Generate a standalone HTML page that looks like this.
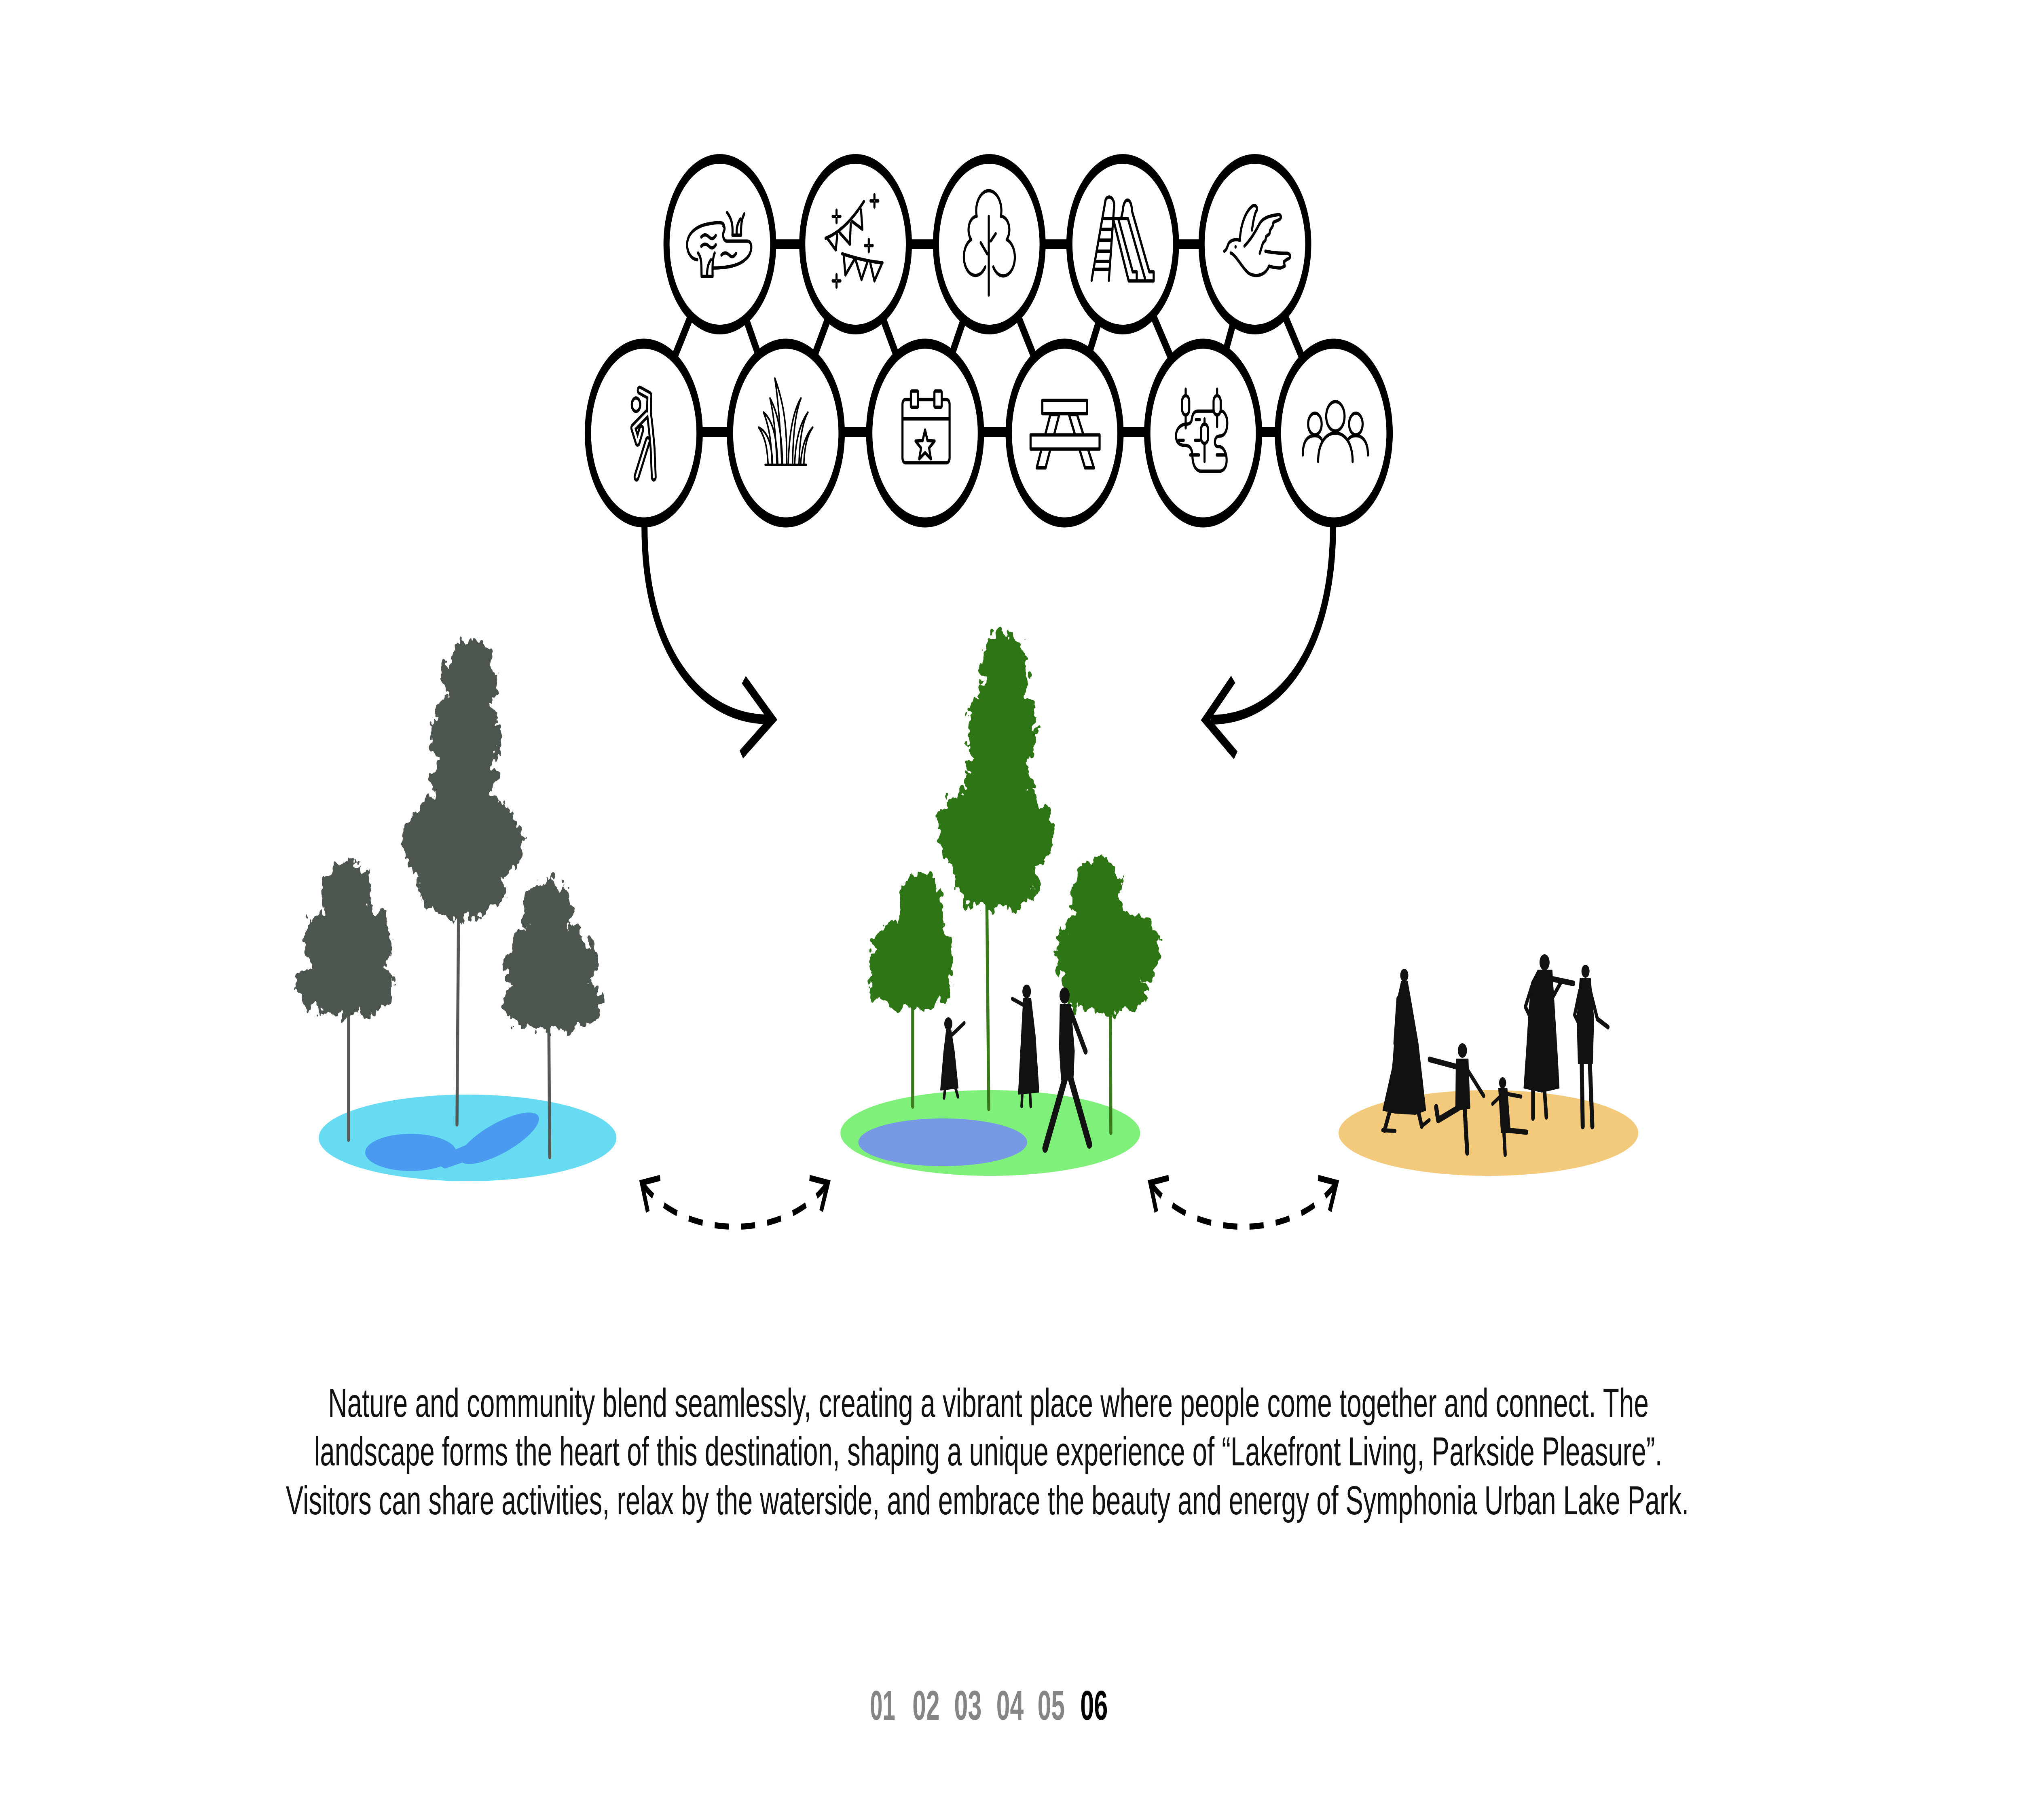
<!DOCTYPE html>
<html>
<head>
<meta charset="utf-8">
<style>
html,body{margin:0;padding:0;background:#fff;width:100%;height:100%;overflow:hidden;}
svg{display:block;position:fixed;left:0;top:0;width:100vw;height:100vh;}
</style>
</head>
<body>
<svg viewBox="0 0 8000 4501" preserveAspectRatio="none" xmlns="http://www.w3.org/2000/svg">
<defs>
<filter id="leafy" filterUnits="userSpaceOnUse" x="1000" y="1400" width="3800" height="1300">
<feTurbulence type="fractalNoise" baseFrequency="0.03" numOctaves="3" seed="7" result="n"/>
<feDisplacementMap in="SourceGraphic" in2="n" scale="70" xChannelSelector="R" yChannelSelector="G"/>
</filter>
</defs>
<rect width="8000" height="4501" fill="#fff"/>

<!-- connectors -->
<g stroke="#000" stroke-width="24" fill="none">
<polyline points="2848,604 3385,604 3914,604 4442,604 4965,604"/>
<polyline points="2547,1068 3109,1068 3660,1068 4212,1068 4760,1068 5277,1068"/>
<line x1="2848" y1="604" x2="2547" y2="1071"/>
<line x1="2848" y1="604" x2="3109" y2="1071"/>
<line x1="3385" y1="604" x2="3109" y2="1071"/>
<line x1="3385" y1="604" x2="3660" y2="1071"/>
<line x1="3914" y1="604" x2="3660" y2="1071"/>
<line x1="3914" y1="604" x2="4212" y2="1071"/>
<line x1="4442" y1="604" x2="4212" y2="1071"/>
<line x1="4442" y1="604" x2="4760" y2="1071"/>
<line x1="4965" y1="604" x2="4760" y2="1071"/>
<line x1="4965" y1="604" x2="5277" y2="1071"/>
<!-- curved arrows -->
<path d="M2550,1250 L2550,1304 C2550,1600 2760,1779 3040,1779"/>
<polyline points="2943,1681 3056,1779 2933,1866"/>
<path d="M5274,1250 L5274,1301 C5274,1600 5070,1780 4790,1780"/>
<polyline points="4879,1680 4770,1780 4889,1868"/>
</g>

<!-- circles -->
<g fill="#fff" stroke="#000">
<g stroke-width="24">
<circle cx="2848" cy="604" r="211"/>
<circle cx="3385" cy="604" r="211"/>
<circle cx="3914" cy="604" r="211"/>
<circle cx="4442" cy="604" r="211"/>
<circle cx="4965" cy="604" r="211"/>
</g>
<g stroke-width="25">
<circle cx="2547" cy="1071" r="221"/>
<circle cx="3109" cy="1071" r="221"/>
<circle cx="3660" cy="1071" r="221"/>
<circle cx="4212" cy="1071" r="221"/>
<circle cx="4760" cy="1071" r="221"/>
<circle cx="5277" cy="1071" r="221"/>
</g>
</g>

<!-- icons -->
<g fill="none" stroke="#000" stroke-width="13" stroke-linecap="round" stroke-linejoin="round">
<!-- pond -->
<g transform="translate(2848,604) scale(0.638)">
<path d="M22,-70 C30,-82 10,-88 -60,-80 C-150,-72 -205,-40 -203,5 C-200,40 -170,58 -140,60"/>
<path d="M-45,92 C20,92 110,88 160,58 C205,35 205,-12 170,-12 L45,-12 C22,-12 15,-35 25,-50 C32,-60 30,-68 22,-70"/>
<path d="M-115,-28 c18,-12 32,-10 48,0 s28,8 42,-6"/>
<path d="M-115,8 c18,-12 32,-10 48,0 s28,8 42,-6"/>
<path d="M10,42 c18,-12 32,-10 48,0 s28,8 42,-6"/>
<path d="M45,-123 C72,-100 82,-78 78,-35 L132,-35 C130,-72 135,-100 152,-118"/>
<path d="M105,-35 C100,-62 112,-85 128,-98"/>
<path d="M-135,34 C-110,55 -115,85 -113,125 L-45,125 C-45,90 -48,60 -32,34"/>
<path d="M-78,125 C-82,95 -70,72 -55,60"/>
</g>
<!-- festival -->
<g transform="translate(3385,604) scale(0.638)">
<path d="M-186,-23 Q-60,-55 52,-166"/>
<path d="M-175,-23 L-123,22 L-113,-36"/>
<path d="M-100,-46 L-35,0 L-30,-80"/>
<path d="M-20,-88 L42,-58 L34,-133"/>
<path d="M-83,37 Q50,65 167,72"/>
<path d="M-73,47 L-63,119 L-8,60"/>
<path d="M2,64 L37,137 L72,72"/>
<path d="M92,74 L117,142 L162,77"/>
<path d="M-142,-108h16 M-110,-108h16 M-118,-132v16 M-118,-100v16"/>
<path d="M93,-168h16 M125,-168h16 M117,-192v16 M117,-160v16"/>
<path d="M58,5h16 M90,5h16 M82,-19v16 M82,13v16"/>
<path d="M-142,142h16 M-110,142h16 M-118,118v16 M-118,150v16"/>
</g>
<!-- tree -->
<g transform="translate(3914,604) scale(0.638)">
<path d="M-25,88 A72,72 0 1 1 -112,-18 A52,52 0 0 1 -78,-108 A78,78 0 1 1 72,-108 A52,52 0 0 1 108,-18 A72,72 0 1 1 25,88"/>
<path d="M-3,-108 L-3,197 M-53,-6 L-13,37 M40,-41 L10,-13"/>
</g>
<!-- slide -->
<g transform="translate(4442,604) scale(0.638)">
<path d="M-108,-166 L-193,140 M-53,-150 L-86,140 M-108,-166 C-104,-190 -58,-190 -53,-155"/>
<path d="M-126,-100 L-59,-100 M-138,-58 L-64,-58 M-150,-16 L-69,-16 M-162,27 L-73,27 M-173,67 L-78,67 M-182,97 L-81,97"/>
<path d="M-60,-100 L37,142 L192,142 L192,107 L165,107 L57,-130 C55,-185 5,-185 0,-128 L-10,-100"/>
<path d="M-28,-100 L62,107 L87,107 L87,142 M32,-100 L137,130 L137,142 M-60,-100 L32,-100"/>
</g>
<!-- bird -->
<g transform="translate(4965,604) scale(0.638)">
<path d="M-190,27 C-175,22 -172,10 -165,0 C-155,-15 -120,-22 -93,-15"/>
<path d="M-93,-15 C-90,-70 -60,-130 -10,-150 C20,-152 15,-130 5,-125 C-8,-100 -15,-70 -18,-55"/>
<path d="M-65,7 C-30,-15 0,-45 25,-75 C45,-100 80,-110 150,-115 C165,-112 165,-100 150,-95 L115,-85 L110,-70 L95,-55 L90,-40 L70,-30 L65,-15 L50,-5 L30,35"/>
<path d="M65,27 C100,32 150,35 200,35 C225,38 225,55 200,58 L180,68 L185,85 L160,92 C130,92 110,90 88,85"/>
<path d="M-150,34 C-120,40 -80,90 -40,112 C0,128 60,125 88,85"/>
<circle cx="-120" cy="10" r="7" fill="#000" stroke="none"/>
</g>
<!-- stretch person -->
<g transform="translate(2547,1071) scale(0.638)">
<g stroke-width="36">
<path d="M-25,-166 L35,-145 L32,-80 L45,-10 L55,60 L62,170"/>
<path d="M25,30 L-45,170"/>
<path d="M20,-75 L-65,-20 L-38,35 L-15,-15"/>
</g>
<g stroke="#fff" stroke-width="12">
<path d="M-25,-166 L35,-145 L32,-80 L45,-10 L55,60 L62,170"/>
<path d="M25,30 L-45,170"/>
<path d="M20,-75 L-65,-20 L-38,35 L-15,-15"/>
</g>
<circle cx="-48" cy="-110" r="26"/>
</g>
<!-- grass -->
<g transform="translate(3109,1071) scale(0.638)" stroke-width="9">
<path d="M-128,123 L127,123"/>
<path d="M-25,120 C-30,20 -45,-120 -68,-212 C-20,-130 10,-40 5,120"/>
<path d="M-55,120 C-60,40 -70,-60 -98,-135 C-50,-80 -25,0 -20,120"/>
<path d="M-85,120 C-90,40 -100,-20 -138,-80 C-80,-50 -55,20 -50,120"/>
<path d="M-110,120 C-115,60 -125,20 -168,-22 C-110,-5 -85,50 -82,120"/>
<path d="M15,120 C20,20 40,-80 94,-135 C60,-80 45,0 42,120"/>
<path d="M55,120 C60,40 80,-30 137,-80 C100,-40 85,40 82,120"/>
<path d="M92,120 C98,60 120,10 167,-22 C130,10 115,60 112,120"/>
</g>
<!-- calendar -->
<g transform="translate(3660,1071) scale(0.638)">
<rect x="-140" y="-130" width="292" height="245" rx="18"/>
<path d="M-140,-55 L152,-55"/>
<rect x="-88" y="-163" width="45" height="63" rx="6" fill="#fff"/>
<rect x="58" y="-163" width="45" height="63" rx="6" fill="#fff"/>
<polygon points="0,-12 15,29 59,31 25,58 36,100 0,76 -36,100 -25,58 -59,31 -15,29"/>
</g>
<!-- picnic table -->
<g transform="translate(4212,1071) scale(0.638)" fill="#fff">
<polygon points="-88,-72 -33,-72 -118,135 -173,135"/>
<polygon points="27,-72 77,-72 182,135 127,135"/>
<rect x="-138" y="-127" width="277" height="52"/>
<rect x="-211" y="7" width="428" height="55"/>
</g>
<!-- cattails -->
<g transform="translate(4760,1071) scale(0.638)">
<path d="M64,-85 L-31,-85 C-55,-85 -65,-75 -70,-55 C-72,-40 -85,-35 -100,-35 C-140,-35 -168,-15 -168,10 C-168,35 -150,48 -110,48 C-80,48 -68,62 -66,90 C-64,130 -40,148 -10,148 L99,148 C130,148 146,130 146,105 C146,75 125,55 100,52 L88,52 C75,50 72,40 74,30 C76,18 88,12 100,12 C135,12 150,-10 150,-40 C150,-65 130,-85 114,-85"/>
<path d="M-150,28 L-120,28 M-50,28 L-20,28 M-80,85 L-25,85 M85,85 L140,85 M-45,-52 L-20,-52"/>
<path d="M-108,-170 L-108,-20 M87,-170 L87,-25 M9,-55 L9,110"/>
<rect x="-130" y="-145" width="44" height="75" rx="22" fill="#fff"/>
<rect x="65" y="-145" width="44" height="75" rx="22" fill="#fff"/>
<rect x="-13" y="-35" width="44" height="75" rx="22" fill="#fff"/>
</g>
<!-- people -->
<g transform="translate(5277,1071) scale(0.638)">
<circle cx="-117" cy="-35" r="42"/>
<circle cx="10" cy="-65" r="57"/>
<circle cx="137" cy="-35" r="42"/>
<path d="M-192,85 C-192,20 -150,10 -117,10 C-100,10 -85,15 -75,25"/>
<path d="M-97,110 C-97,40 -50,0 10,0 C70,0 117,40 117,110"/>
<path d="M90,25 C100,15 115,10 137,10 C175,10 212,30 212,85"/>
</g>
</g>

<!-- islands -->
<ellipse cx="1850" cy="2814" rx="589" ry="107" fill="#66DBF2"/>
<ellipse cx="1625" cy="2850" rx="180" ry="46" fill="#4A9BEF"/>
<ellipse cx="1975" cy="2815" rx="165" ry="40" fill="#4A9BEF" transform="rotate(-18 1975 2815)"/>
<path d="M1700,2870 L1850,2830 L1900,2860 L1760,2890 Z" fill="#4A9BEF"/>
<ellipse cx="3918" cy="2802" rx="593" ry="106" fill="#7FF07A"/>
<ellipse cx="3730" cy="2825" rx="334" ry="59" fill="#7799E3"/>
<ellipse cx="5889" cy="2802" rx="593" ry="106" fill="#F3C97B"/>

<!-- trunks -->
<g stroke-width="12" stroke-linecap="round" fill="none">
<g stroke="#555A56">
<line x1="1815" y1="2200" x2="1808" y2="2780"/>
<line x1="1379" y1="2450" x2="1379" y2="2818"/>
<line x1="2171" y1="2500" x2="2175" y2="2861"/>
</g>
<g stroke="#3A7A1A">
<line x1="3904" y1="2200" x2="3912" y2="2742"/>
<line x1="3611" y1="2450" x2="3611" y2="2736"/>
<line x1="4393" y1="2450" x2="4395" y2="2801"/>
</g>
</g>

<!-- canopies -->
<g filter="url(#leafy)">
<g fill="#4E5450">
<ellipse cx="1860" cy="1680" rx="105" ry="100"/>
<ellipse cx="1845" cy="1820" rx="140" ry="110"/>
<ellipse cx="1830" cy="1930" rx="130" ry="60"/>
<ellipse cx="1828" cy="2080" rx="235" ry="130"/>
<ellipse cx="1830" cy="2200" rx="175" ry="70"/>
<ellipse cx="1375" cy="2220" rx="95" ry="90"/>
<ellipse cx="1380" cy="2330" rx="175" ry="100"/>
<ellipse cx="1370" cy="2440" rx="195" ry="75"/>
<ellipse cx="2165" cy="2260" rx="95" ry="90"/>
<ellipse cx="2180" cy="2380" rx="185" ry="100"/>
<ellipse cx="2185" cy="2480" rx="195" ry="75"/>
</g>
<g fill="#2F7512">
<ellipse cx="3975" cy="1660" rx="90" ry="100"/>
<ellipse cx="3965" cy="1800" rx="135" ry="120"/>
<ellipse cx="3950" cy="1930" rx="135" ry="70"/>
<ellipse cx="3940" cy="2060" rx="230" ry="130"/>
<ellipse cx="3945" cy="2180" rx="165" ry="70"/>
<ellipse cx="3640" cy="2250" rx="90" ry="95"/>
<ellipse cx="3610" cy="2370" rx="165" ry="100"/>
<ellipse cx="3600" cy="2440" rx="165" ry="55"/>
<ellipse cx="4340" cy="2220" rx="100" ry="100"/>
<ellipse cx="4380" cy="2350" rx="205" ry="110"/>
<ellipse cx="4370" cy="2450" rx="175" ry="55"/>
</g>
</g>

<!-- people silhouettes -->
<g fill="#111" stroke="#111" stroke-linecap="round" stroke-linejoin="round">
<!-- middle island -->
<circle cx="3752" cy="2532" r="16" stroke="none"/>
<path d="M3745,2548 L3762,2548 L3775,2600 L3790,2690 L3722,2695 L3735,2600 Z" stroke-width="4"/>
<path d="M3765,2560 L3815,2530 M3740,2690 L3735,2715 M3780,2690 L3790,2712" stroke-width="10" fill="none"/>
<circle cx="4062" cy="2452" r="17" stroke="none"/>
<path d="M4050,2470 L4078,2470 L4095,2560 L4110,2700 L4030,2705 L4042,2560 Z" stroke-width="4"/>
<path d="M4048,2485 L4005,2470 M4045,2700 L4042,2736 M4075,2700 L4078,2736" stroke-width="10" fill="none"/>
<circle cx="4212" cy="2462" r="20" stroke="none"/>
<path d="M4195,2485 L4235,2485 L4250,2600 L4245,2670 L4200,2670 L4192,2590 Z" stroke-width="4"/>
<path d="M4235,2500 L4295,2600" stroke-width="16" fill="none"/>
<path d="M4215,2665 L4135,2840 M4235,2665 L4310,2830" stroke-width="22" fill="none"/>
<!-- right island -->
<circle cx="5556" cy="2412" r="16" stroke="none"/>
<path d="M5545,2428 L5568,2428 L5580,2470 L5610,2580 L5640,2745 L5600,2755 L5520,2752 L5472,2745 L5510,2640 L5525,2520 L5530,2470 Z" stroke-width="4"/>
<path d="M5532,2470 L5520,2580 M5500,2745 L5478,2795 M5610,2745 L5625,2785" stroke-width="14" fill="none"/>
<path d="M5470,2795 L5520,2797 M5625,2785 L5655,2770" stroke-width="10" fill="none"/>
<circle cx="5786" cy="2598" r="18" stroke="none"/>
<path d="M5762,2620 L5808,2620 L5815,2740 L5760,2745 Z" stroke-width="4"/>
<path d="M5775,2640 L5656,2620" stroke-width="14" fill="none"/>
<path d="M5800,2640 L5870,2710" stroke-width="12" fill="none"/>
<path d="M5770,2740 L5690,2770 L5682,2738 M5795,2740 L5805,2850" stroke-width="16" fill="none"/>
<circle cx="5945" cy="2678" r="14" stroke="none"/>
<path d="M5930,2692 L5962,2692 L5975,2800 L5940,2800 Z" stroke-width="4"/>
<path d="M5935,2712 L5905,2730 M5960,2705 L6018,2712" stroke-width="10" fill="none"/>
<path d="M5950,2795 L5955,2855 M5965,2795 L6040,2800" stroke-width="13" fill="none"/>
<circle cx="6111" cy="2380" r="20" stroke="none"/>
<path d="M6085,2400 L6140,2400 L6150,2500 L6160,2600 L6168,2690 L6100,2700 L6030,2690 L6040,2600 L6050,2500 L6060,2430 Z" stroke-width="4"/>
<path d="M6135,2420 L6225,2432" stroke-width="14" fill="none"/>
<path d="M6140,2470 L6175,2430 M6060,2440 L6035,2490 L6058,2520" stroke-width="12" fill="none"/>
<path d="M6065,2690 L6065,2765 M6110,2690 L6118,2762" stroke-width="14" fill="none"/>
<circle cx="6273" cy="2402" r="16" stroke="none"/>
<path d="M6252,2420 L6292,2420 L6305,2520 L6300,2630 L6245,2630 L6240,2520 Z" stroke-width="4"/>
<path d="M6292,2450 L6320,2520 L6362,2540 M6250,2450 L6230,2510 L6250,2535" stroke-width="12" fill="none"/>
<path d="M6258,2625 L6262,2785 M6290,2625 L6300,2785" stroke-width="16" fill="none"/>
</g>

<!-- dashed double arrows -->
<g fill="none" stroke="#000" stroke-width="15">
<path d="M2539,2925 C2700,3070 3115,3070 3276,2925" stroke-dasharray="56 48"/>
<path d="M2612,2913 L2539,2925 L2563,2997"/>
<path d="M3203,2913 L3276,2925 L3249,2995"/>
<g transform="translate(2012,0)">
<path d="M2539,2925 C2700,3070 3115,3070 3276,2925" stroke-dasharray="56 48"/>
<path d="M2612,2913 L2539,2925 L2563,2997"/>
<path d="M3203,2913 L3276,2925 L3249,2995"/>
</g>
</g>

<!-- paragraph -->
<g font-family="'Liberation Sans', sans-serif" font-size="100" fill="#111">
<text x="1298" y="3504" textLength="5225" lengthAdjust="spacingAndGlyphs">Nature and community blend seamlessly, creating a vibrant place where people come together and connect. The</text>
<text x="1243" y="3624" textLength="5334" lengthAdjust="spacingAndGlyphs">landscape forms the heart of this destination, shaping a unique experience of “Lakefront Living, Parkside Pleasure”.</text>
<text x="1131" y="3745" textLength="5551" lengthAdjust="spacingAndGlyphs">Visitors can share activities, relax by the waterside, and embrace the beauty and energy of Symphonia Urban Lake Park.</text>
</g>

<!-- page numbers -->
<g font-family="'Liberation Sans', sans-serif" font-size="103" font-weight="bold" fill="#858585">
<text x="3442" y="4253" textLength="100" lengthAdjust="spacingAndGlyphs">01</text>
<text x="3610" y="4253" textLength="108" lengthAdjust="spacingAndGlyphs">02</text>
<text x="3775" y="4253" textLength="109" lengthAdjust="spacingAndGlyphs">03</text>
<text x="3942" y="4253" textLength="108" lengthAdjust="spacingAndGlyphs">04</text>
<text x="4105" y="4253" textLength="108" lengthAdjust="spacingAndGlyphs">05</text>
<text x="4274" y="4253" textLength="109" lengthAdjust="spacingAndGlyphs" fill="#000">06</text>
</g>
</svg>
</body>
</html>
